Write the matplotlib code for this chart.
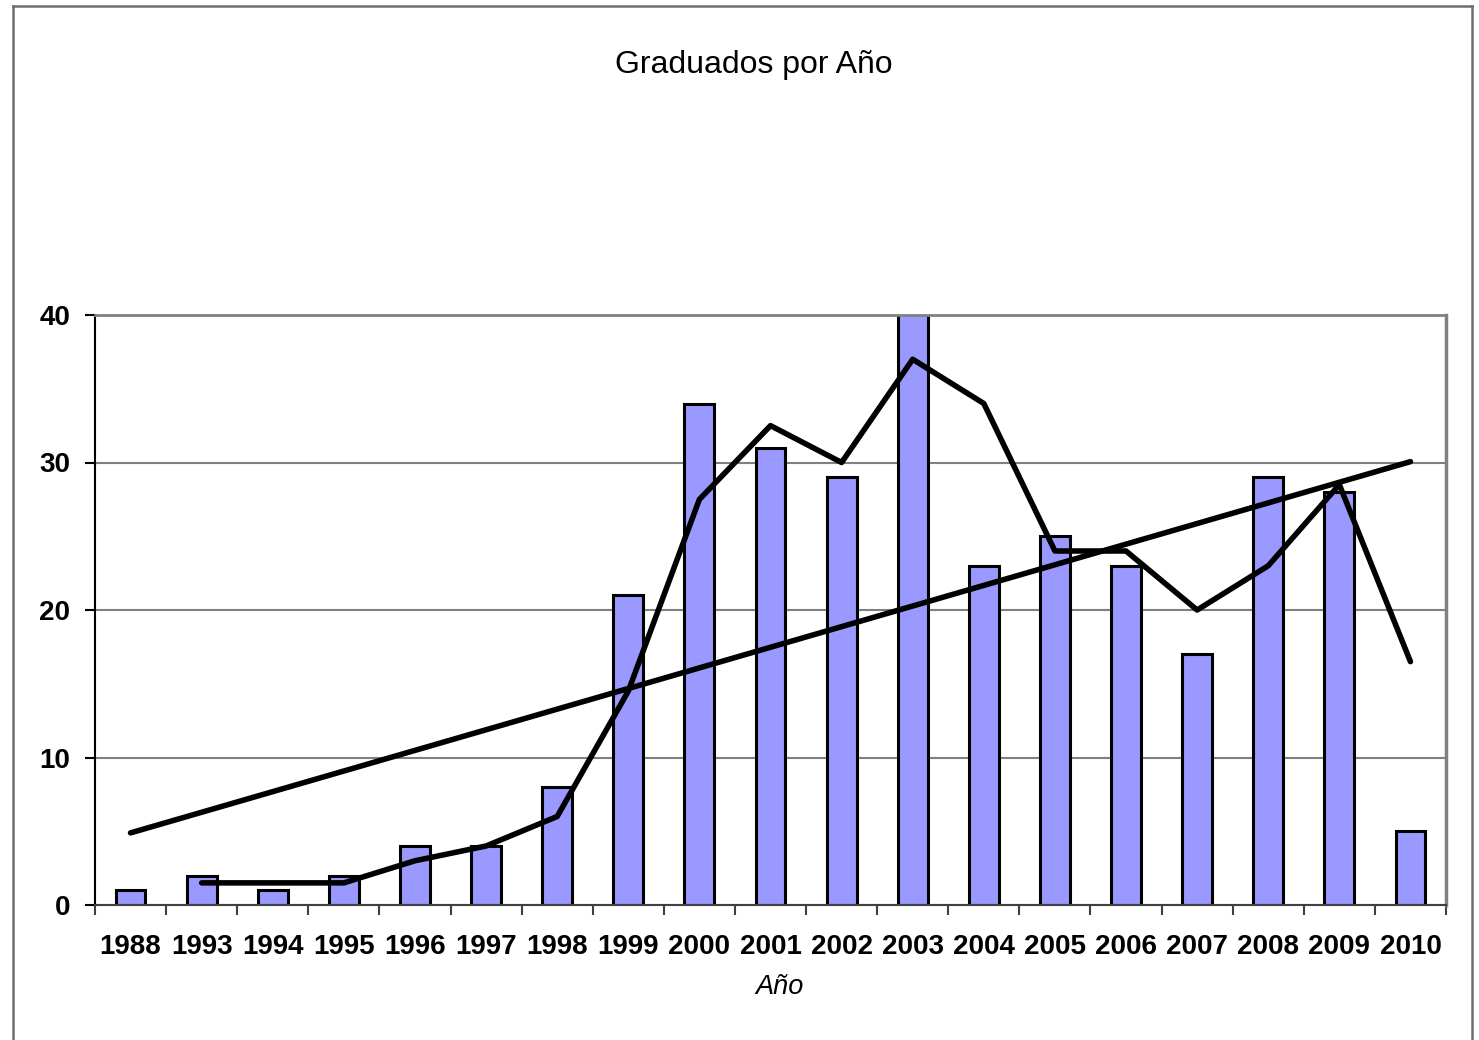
import numpy as np
import matplotlib.pyplot as plt
from matplotlib.lines import Line2D

plt.rcParams['font.family'] = ['Liberation Sans', 'DejaVu Sans']

years = ['1988', '1993', '1994', '1995', '1996', '1997', '1998', '1999', '2000',
         '2001', '2002', '2003', '2004', '2005', '2006', '2007', '2008', '2009', '2010']
graduados = [1, 2, 1, 2, 4, 4, 8, 21, 34, 31, 29, 45, 23, 25, 23, 17, 29, 28, 5]

x = np.arange(len(years))
y = np.array(graduados, dtype=float)

# media movil de 2 periodos y tendencia lineal
media_movil = (y[1:] + y[:-1]) / 2
coef = np.polyfit(x + 1, y, 1)
tendencia = np.polyval(coef, x + 1)

fig = plt.figure(figsize=(14.79, 10.40), dpi=100)
ax = fig.add_axes([95 / 1479, 1 - 905 / 1040, (1446 - 95) / 1479, (905 - 315) / 1040])

ax.set_axisbelow(True)
ax.yaxis.grid(True, color='#808080', linewidth=1.5)
ax.bar(x, y, width=0.42, color='#9999FF', edgecolor='black', linewidth=2.2, zorder=2)
ax.plot(x, tendencia, color='black', linewidth=4, zorder=3, solid_capstyle='round')
ax.plot(x[1:], media_movil, color='black', linewidth=4, zorder=3, solid_capstyle='round')

ax.set_xlim(-0.5, len(years) - 0.5)
ax.set_ylim(0, 40)
ax.set_yticks([0, 10, 20, 30, 40])
ax.set_xticks(x)
ax.set_xticklabels(years, fontsize=20, fontweight='bold')
ax.set_xticks(np.arange(-0.5, len(years), 1), minor=True)
ax.tick_params(axis='x', which='major', length=0, pad=21)
ax.tick_params(axis='x', which='minor', length=7, width=1.5, color='#404040')
ax.tick_params(axis='y', length=7, width=1.5, labelsize=20, pad=11)
for lbl in ax.get_yticklabels():
    lbl.set_fontweight('bold')

ax.spines['left'].set_color('black')
ax.spines['left'].set_linewidth(1.5)
ax.spines['bottom'].set_color('#404040')
ax.spines['bottom'].set_linewidth(1.5)
ax.spines['top'].set_color('#808080')
ax.spines['top'].set_linewidth(2)
ax.spines['right'].set_color('#808080')
ax.spines['right'].set_linewidth(2.5)

fig.text(780 / 1479, 1 - 987 / 1040, 'Año', fontsize=19.5, style='italic', ha='center', va='center')
fig.text(754 / 1479, 1 - 65 / 1040, 'Graduados por Año', fontsize=23, ha='center', va='center')

# borde exterior del grafico
bx0, bx1 = 12.5 / 1479, 1472 / 1479
by1 = 1 - 5.5 / 1040
for xs, ys in [([bx0, bx0], [0, by1]), ([bx0, bx1], [by1, by1]), ([bx1, bx1], [by1, 0])]:
    fig.add_artist(Line2D(xs, ys, color='#6e6e6e', linewidth=1.8))

fig.savefig('out.png', dpi=100)
